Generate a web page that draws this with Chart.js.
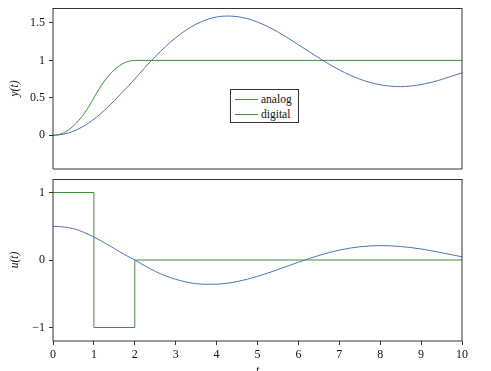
<!DOCTYPE html>
<html>
<head>
<meta charset="utf-8">
<script src="https://cdn.jsdelivr.net/npm/chart.js@4.4.1/dist/chart.umd.min.js"></script>
<style>
html,body{margin:0;padding:0;background:#fff;}
#wrap{position:relative;width:491px;height:371px;overflow:hidden;background:#fff;}
#c1{position:absolute;left:0;top:0;}
#c2{position:absolute;left:0;top:175px;}
#legend{position:absolute;left:230px;top:89px;width:69px;height:34px;border:1px solid #333;background:#fff;font-family:'Liberation Serif',serif;font-size:11.5px;color:#111;box-sizing:border-box;}
.row{position:absolute;left:4px;height:14px;line-height:14px;white-space:nowrap;}
.sw{display:inline-block;width:23px;height:0;border-top:1px solid;vertical-align:middle;margin-right:3px;position:relative;top:-1px;}
</style>
</head>
<body>
<div id="wrap">
  <canvas id="c1" width="491" height="175"></canvas>
  <canvas id="c2" width="491" height="196"></canvas>
  <div id="legend">
    <div class="row" style="top:2px"><span class="sw" style="border-color:#4f74b8"></span>analog</div>
    <div class="row" style="top:17px"><span class="sw" style="border-color:#3f8f3f"></span>digital</div>
  </div>
</div>
<script>
// ---- data ----
const t = [0,0.25,0.5,0.75,1,1.25,1.5,1.75,2,2.25,2.5,2.75,3,3.25,3.5,3.75,4,4.25,4.5,4.75,5,5.25,5.5,5.75,6,6.25,6.5,6.75,7,7.25,7.5,7.75,8,8.25,8.5,8.75,9,9.25,9.5,9.75,10];
const analogY = [0,0.014,0.055,0.122,0.215,0.330,0.463,0.605,0.752,0.907,1.051,1.184,1.303,1.404,1.484,1.543,1.580,1.593,1.585,1.558,1.512,1.452,1.379,1.297,1.210,1.121,1.034,0.950,0.874,0.806,0.750,0.706,0.675,0.656,0.650,0.658,0.677,0.706,0.745,0.789,0.834];
const analogU = [0.500,0.490,0.465,0.410,0.340,0.258,0.169,0.080,0.000,-0.088,-0.168,-0.234,-0.286,-0.325,-0.350,-0.360,-0.358,-0.345,-0.320,-0.285,-0.242,-0.194,-0.141,-0.087,-0.033,0.019,0.067,0.110,0.146,0.175,0.196,0.209,0.213,0.210,0.200,0.184,0.163,0.137,0.108,0.077,0.048];
const digitalT = [0,0.125,0.25,0.375,0.5,0.625,0.75,0.875,1,1.125,1.25,1.375,1.5,1.625,1.75,1.875,2,10];
const digitalY = [0,0.008,0.031,0.070,0.125,0.195,0.281,0.383,0.5,0.617,0.719,0.805,0.875,0.930,0.969,0.992,1,1];
const stepT = [0,1,2,10];
const digitalU = [1,-1,0,0];
const xTicks = [0,1,2,3,4,5,6,7,8,9,10];
const yTicksTop = [0,0.5,1,1.5];
const yTicksBottom = [-1,0,1];

const BLUE = '#4f74b8', GREEN = '#3f8f3f';
const FONT = "'Liberation Serif', serif";
Chart.defaults.font.family = FONT;
Chart.defaults.font.size = 12;
Chart.defaults.color = '#111';

const pts = (xs, ys) => xs.map((x, i) => ({x: x, y: ys[i]}));
const fmt = v => (v < 0 ? '\u2212' + Math.abs(v) : String(v));

const frame = {
  id: 'frame',
  afterDatasetsDraw(chart) {
    const {ctx, chartArea: a} = chart;
    ctx.save();
    ctx.strokeStyle = '#333';
    ctx.lineWidth = 1;
    ctx.beginPath();
    ctx.moveTo(a.left, a.top + 0.5); ctx.lineTo(a.right, a.top + 0.5);
    ctx.moveTo(a.left, a.top); ctx.lineTo(a.left, a.bottom);
    ctx.moveTo(a.right, a.top); ctx.lineTo(a.right, a.bottom);
    ctx.moveTo(a.left, a.bottom); ctx.lineTo(a.right, a.bottom);
    ctx.stroke();
    ctx.restore();
  }
};

const gridOpts = {drawOnChartArea: false, drawTicks: true, tickLength: 4, color: '#333'};

function yScale(min, max, ticksArr, title) {
  return {
    type: 'linear', min: min, max: max,
    afterFit: s => { s.width = 53; s.paddingTop = 0; s.paddingBottom = 0; },
    afterBuildTicks: s => { s.ticks = ticksArr.map(v => ({value: v})); },
    ticks: {padding: 4, color: '#111', callback: v => fmt(v)},
    grid: gridOpts,
    border: {display: false},
    title: {display: true, text: title, color: '#111', font: {size: 11.5, style: 'italic'}, padding: {top: 8, bottom: 0}}
  };
}

new Chart(document.getElementById('c1'), {
  type: 'line',
  data: {datasets: [
    {label: 'analog', data: pts(t, analogY), borderColor: BLUE, borderWidth: 1, pointRadius: 0, cubicInterpolationMode: 'monotone'},
    {label: 'digital', data: pts(digitalT, digitalY), borderColor: GREEN, borderWidth: 1, pointRadius: 0, cubicInterpolationMode: 'monotone'}
  ]},
  options: {
    responsive: false, animation: false,
    layout: {padding: {top: 8, bottom: 6, left: 0, right: 29}},
    plugins: {legend: {display: false}, tooltip: {enabled: false}},
    scales: {
      x: {type: 'linear', min: 0, max: 10, display: false},
      y: yScale(-0.45, 1.7, yTicksTop, 'y(t)')
    }
  },
  plugins: [frame]
});

new Chart(document.getElementById('c2'), {
  type: 'line',
  data: {datasets: [
    {label: 'analog', data: pts(t, analogU), borderColor: BLUE, borderWidth: 1, pointRadius: 0, cubicInterpolationMode: 'monotone'},
    {label: 'digital', data: pts(stepT, digitalU), borderColor: GREEN, borderWidth: 1, pointRadius: 0, stepped: 'before'}
  ]},
  options: {
    responsive: false, animation: false,
    layout: {padding: {top: 4, bottom: 0, left: 0, right: 29}},
    plugins: {legend: {display: false}, tooltip: {enabled: false}},
    scales: {
      x: {
        type: 'linear', min: 0, max: 10,
        afterFit: s => { s.height = 30; s.paddingLeft = 0; s.paddingRight = 0; },
        afterBuildTicks: s => { s.ticks = xTicks.map(v => ({value: v})); },
        ticks: {padding: 3, color: '#111', maxRotation: 0, callback: v => fmt(v)},
        grid: gridOpts,
        border: {display: false},
        title: {display: true, text: 't', color: '#111', font: {size: 11.5, style: 'italic'}, padding: {top: 0, bottom: -7}}
      },
      y: yScale(-1.2, 1.2, yTicksBottom, 'u(t)')
    }
  },
  plugins: [frame]
});
</script>
</body>
</html>
